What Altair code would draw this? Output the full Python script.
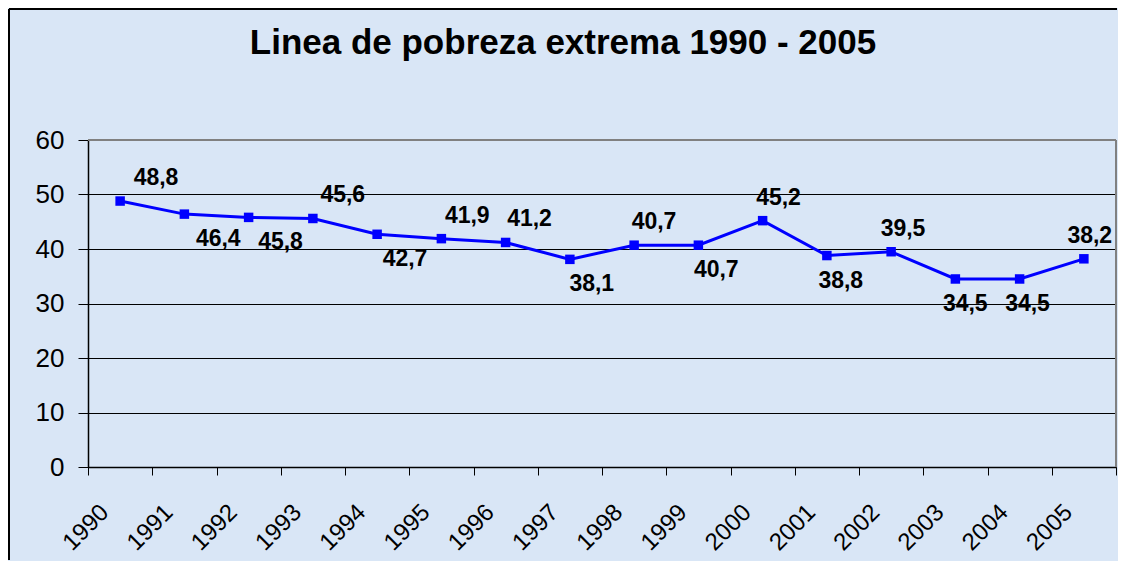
import altair as alt
import pandas as pd

years = ["1990", "1991", "1992", "1993", "1994", "1995", "1996", "1997",
         "1998", "1999", "2000", "2001", "2002", "2003", "2004", "2005"]
values = [48.8, 46.4, 45.8, 45.6, 42.7, 41.9, 41.2, 38.1,
          40.7, 40.7, 45.2, 38.8, 39.5, 34.5, 34.5, 38.2]
label_side = ["above", "below", "below", "above", "below", "above", "above", "below",
              "above", "below", "above", "below", "above", "below", "below", "above"]
y_ticks = [0, 10, 20, 30, 40, 50, 60]
title_text = "Linea de pobreza extrema 1990 - 2005"

df = pd.DataFrame({"year": years, "value": values, "side": label_side})

W, H = 1028, 327
BG = "#d9e6f6"
FONT = "Liberation Sans"

x_enc = alt.X(
    "year:N", sort=years,
    scale=alt.Scale(type="band", paddingInner=0, paddingOuter=0),
    axis=alt.Axis(title=None, labelAngle=-45, labelFontSize=24, labelColor="black",
                  labelFont=FONT, tickBand="extent", tickSize=8, tickColor="black",
                  domainColor="black", domainWidth=1.5, labelPadding=25, labelOffset=-24,
                  grid=False),
)
y_enc = alt.Y(
    "value:Q", scale=alt.Scale(domain=[0, 60], nice=False),
    axis=alt.Axis(title=None, values=y_ticks, labelFontSize=26, labelColor="black",
                  labelFont=FONT, tickSize=10, tickColor="black", domainColor="black",
                  domainWidth=1.5, grid=True, gridColor="black", gridWidth=1,
                  labelPadding=14),
)

base = alt.Chart(df)

line = base.mark_line(color="#0000ff", strokeWidth=3).encode(x=x_enc, y=y_enc)
pts = base.mark_square(color="#0000ff", size=90, opacity=1).encode(x=x_enc, y=y_enc)

# label placement style: offset (px, from band start) drifts from right-of-point to nearly centred
lbl = base.transform_window(idx="row_number()").transform_calculate(
    lab="replace(format(datum.value, '.1f'), '.', ',')",
    xo="70 - 2 * datum.idx",
)
above = lbl.transform_filter("datum.side == 'above'").mark_text(
    font=FONT, fontSize=23, fontWeight="bold", color="black", dy=-23, baseline="middle"
).encode(x=x_enc, y=y_enc, xOffset=alt.XOffset("xo:Q", scale=None), text="lab:N")
below = lbl.transform_filter("datum.side == 'below'").mark_text(
    font=FONT, fontSize=23, fontWeight="bold", color="black", dy=25, baseline="middle"
).encode(x=x_enc, y=y_enc, xOffset=alt.XOffset("xo:Q", scale=None), text="lab:N")

one = alt.Chart(pd.DataFrame({"k": [0]}))
plot_top = one.mark_rule(color="#808080", strokeWidth=2).encode(
    x=alt.value(0), x2=alt.value(W), y=alt.value(0))
plot_right = one.mark_rule(color="#808080", strokeWidth=2).encode(
    x=alt.value(W), y=alt.value(0), y2=alt.value(H))
outer_left = one.mark_rule(color="black", strokeWidth=2).encode(
    x=alt.value(-79), y=alt.value(-131), y2=alt.value(420))
outer_top = one.mark_rule(color="black", strokeWidth=2).encode(
    x=alt.value(-79), x2=alt.value(1029), y=alt.value(-131))

chart = alt.layer(
    outer_left, outer_top, line, pts, above, below, plot_top, plot_right
).properties(
    width=W, height=H, padding=0,
    title=alt.TitleParams(title_text, fontSize=35, font=FONT, fontWeight="bold",
                          color="black", anchor="middle", frame="bounds",
                          offset=-81, baseline="alphabetic"),
).configure(background=BG).configure_view(strokeWidth=0)

chart.save("out.html", embed_options={"renderer": "svg", "actions": False})
